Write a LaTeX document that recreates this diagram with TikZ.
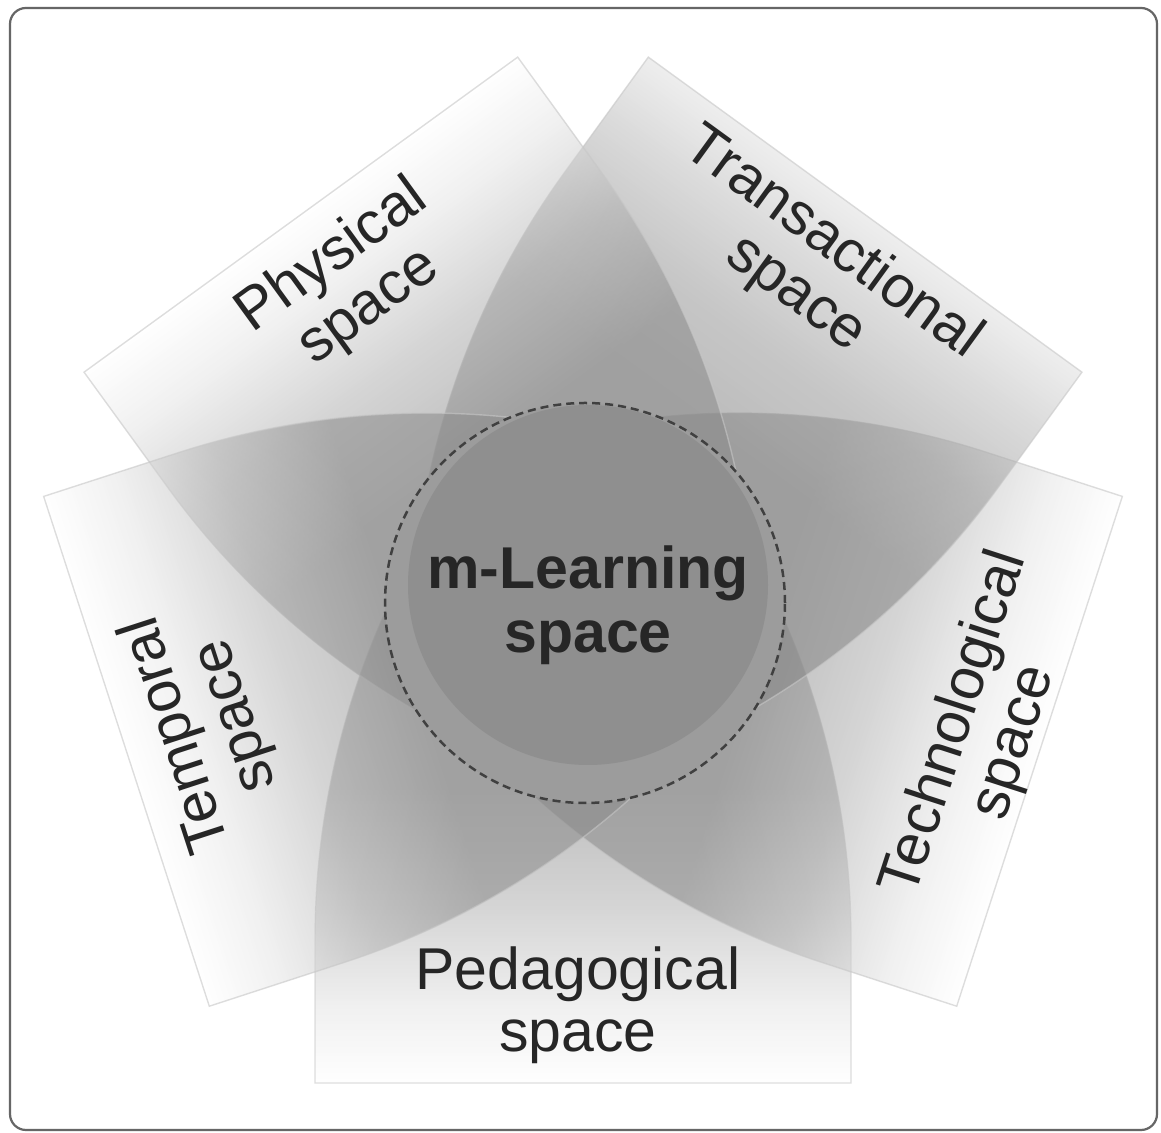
\documentclass[tikz,border=0pt]{standalone}
\usepackage{fontspec}
\setmainfont{Liberation Sans}
% light at the outer edge, darkening towards the hub
\pgfdeclareverticalshading{blade}{100bp}{color(0bp)=(white); color(25bp)=(white); color(30bp)=(black!10); color(37bp)=(black!30); color(45bp)=(black!46); color(100bp)=(black!46)}
\pgfdeclareverticalshading{bladedark}{100bp}{color(0bp)=(black!12); color(25bp)=(black!12); color(30bp)=(black!26); color(36bp)=(black!40); color(43bp)=(black!48); color(100bp)=(black!48)}
\begin{document}
\begin{tikzpicture}[x=0.5pt,y=0.5pt,
  bladepath/.style={insert path={(-268,-480) -- (-268,-337)
      arc[start angle=180, end angle=131.68, radius=800]
      arc[start angle=48.32, end angle=0, radius=800]
      -- (268,-480) -- cycle}},
  petal/.style={fill opacity=0.55},
  petalline/.style={draw=black!22, draw opacity=0.6, line width=0.7pt},
  lbl/.style={align=center, text=black!85, font=\fontsize{29.5}{31}\selectfont},
  hub/.style={align=center, text=black!85, font=\fontsize{29.5}{32}\selectfont\bfseries}]
% page and frame
\useasboundingbox (0,0) rectangle (1161,1133);
\fill[white] (0,0) rectangle (1161,1133);
\draw[black!60, line width=1.1pt, rounded corners=8pt] (10,3) rectangle (1157,1125);
\coordinate (c) at (583,530);
% five petals around the hub (angle / shading)
\foreach \ang/\shd in {0/blade,72/blade,144/bladedark,216/blade,288/blade} {
  \begin{scope}[transform canvas={shift={(583,530)},rotate=\ang}]
    \begin{scope}
      \clip (-600,-600) rectangle (600,180);
      \shade[petal, shading=\shd] [bladepath];
    \end{scope}
    \draw[petalline] (-193.6,0) arc[start angle=155.1, end angle=180, radius=800]
      -- (-268,-480) -- (268,-480) -- (268,-337)
      arc[start angle=0, end angle=24.9, radius=800];
  \end{scope}
}
% hub
\fill[black!39] (585,530) circle[radius=200];
\fill[black!44] (588,548) circle[radius=180];
\draw[black!75, line width=1.25pt, dash pattern=on 4pt off 2.5pt] (585,530) circle[radius=200];
\node[hub] (hubtext) at (588,528) {m-Learning\\space};
% petal labels
\node[lbl, rotate=36]  (physical) at (351,851) {Physical\\space};
\node[lbl, rotate=-36] (transactional) at (814,864) {Transactional\\space};
\node[lbl, rotate=72]  (technological) at (985,400) {Technological\\space};
\node[lbl, rotate=108] (temporal) at (207,408) {Temporal\\space};
\node[lbl]             (pedagogical) at (578,128) {Pedagogical\\space};
\end{tikzpicture}
\end{document}
